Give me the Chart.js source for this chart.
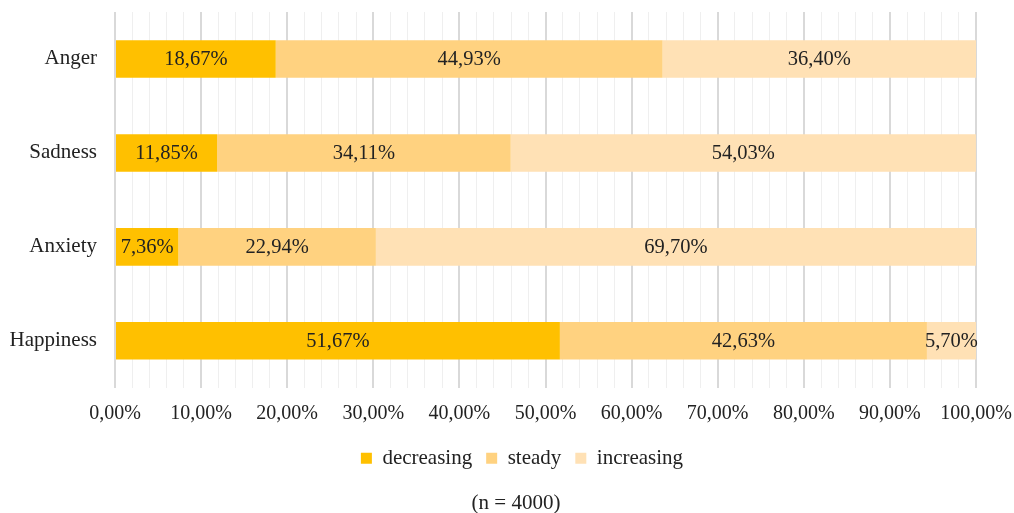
<!DOCTYPE html>
<html>
<head>
<meta charset="utf-8">
<script src="https://cdn.jsdelivr.net/npm/chart.js@4"></script>
<style>
  html, body { margin: 0; padding: 0; background: #fff; }
  #wrap { width: 1014px; height: 513px; }
</style>
</head>
<body>
<div id="wrap"><canvas id="c" width="1014" height="513"></canvas></div>
<script>
const categories = ['Anger', 'Sadness', 'Anxiety', 'Happiness'];
const seriesNames = ['decreasing', 'steady', 'increasing'];
const decreasing = [18.67, 11.85, 7.36, 51.67];
const steady = [44.93, 34.11, 22.94, 42.63];
const increasing = [36.40, 54.03, 69.70, 5.70];
const seriesColors = ['#FFC000', '#FFD280', '#FFE1B5'];
const subtitleText = '(n = 4000)';

const FONT = "'Liberation Serif', 'Times New Roman', serif";
const FS = 20;
const fmt = v => v.toFixed(2).replace('.', ',') + '%';

const labelPlugin = {
  id: 'barLabels',
  afterDatasetsDraw(chart) {
    const ctx = chart.ctx;
    ctx.save();
    ctx.font = '20.5px ' + FONT;
    ctx.fillStyle = '#222';
    ctx.textAlign = 'center';
    ctx.textBaseline = 'middle';
    chart.data.datasets.forEach((ds, di) => {
      const meta = chart.getDatasetMeta(di);
      meta.data.forEach((el, i) => {
        const p = el.getProps(['x', 'y', 'base'], true);
        ctx.fillText(fmt(ds.data[i]), (p.x + p.base) / 2, p.y + 1);
      });
    });
    ctx.restore();
  }
};

const shiftPlugin = {
  id: 'shiftBottomBlocks',
  afterLayout(chart) {
    const lg = chart.legend;
    if (lg) { lg.left += 34; lg.right += 34; if (lg.adjustHitBoxes) lg.adjustHitBoxes(); }
    chart.boxes.forEach(b => {
      if (b !== lg && b.options && b.options.text === subtitleText) { b.left += 28; b.right += 28; }
    });
  }
};

new Chart(document.getElementById('c'), {
  type: 'bar',
  data: {
    labels: categories,
    datasets: [
      { label: seriesNames[0], data: decreasing, backgroundColor: seriesColors[0] },
      { label: seriesNames[1], data: steady, backgroundColor: seriesColors[1] },
      { label: seriesNames[2], data: increasing, backgroundColor: seriesColors[2] }
    ]
  },
  options: {
    indexAxis: 'y',
    responsive: false,
    animation: false,
    devicePixelRatio: 1,
    categoryPercentage: 0.8,
    barPercentage: 0.5,
    layout: { padding: { top: 12, right: 38, left: 0, bottom: 0 } },
    scales: {
      x: {
        stacked: true,
        min: 0,
        max: 100,
        afterFit(scale) {
          scale.height -= 6;
          scale.paddingLeft = 0;
          scale.paddingRight = 0;
        },
        ticks: {
          stepSize: 2,
          autoSkip: false,
          maxRotation: 0,
          padding: 14,
          color: '#222',
          font: { family: FONT, size: FS },
          callback: v => (Math.round(v) % 10 === 0 ? fmt(v) : '')
        },
        grid: {
          drawTicks: false,
          color: c => (Math.round(c.tick.value) % 10 === 0 ? '#D9D9D9' : '#EFEFEF'),
          lineWidth: c => (Math.round(c.tick.value) % 10 === 0 ? 2 : 1)
        },
        border: { display: false }
      },
      y: {
        stacked: true,
        afterFit(scale) {
          scale.width = 115;
          scale.paddingTop = 0;
          scale.paddingBottom = 0;
        },
        grid: { display: false, drawTicks: false },
        border: { display: false },
        ticks: {
          padding: 18,
          color: '#222',
          font: { family: FONT, size: 21 }
        }
      }
    },
    plugins: {
      legend: {
        position: 'bottom',
        labels: {
          boxWidth: 11,
          boxHeight: 11,
          padding: 14,
          color: '#222',
          font: { family: FONT, size: 21 }
        }
      },
      subtitle: {
        display: true,
        text: subtitleText,
        position: 'bottom',
        color: '#222',
        font: { family: FONT, size: 21, weight: 'normal' },
        padding: { top: 12, bottom: -3 }
      },
      tooltip: { enabled: false }
    }
  },
  plugins: [labelPlugin, shiftPlugin]
});
</script>
</body>
</html>
